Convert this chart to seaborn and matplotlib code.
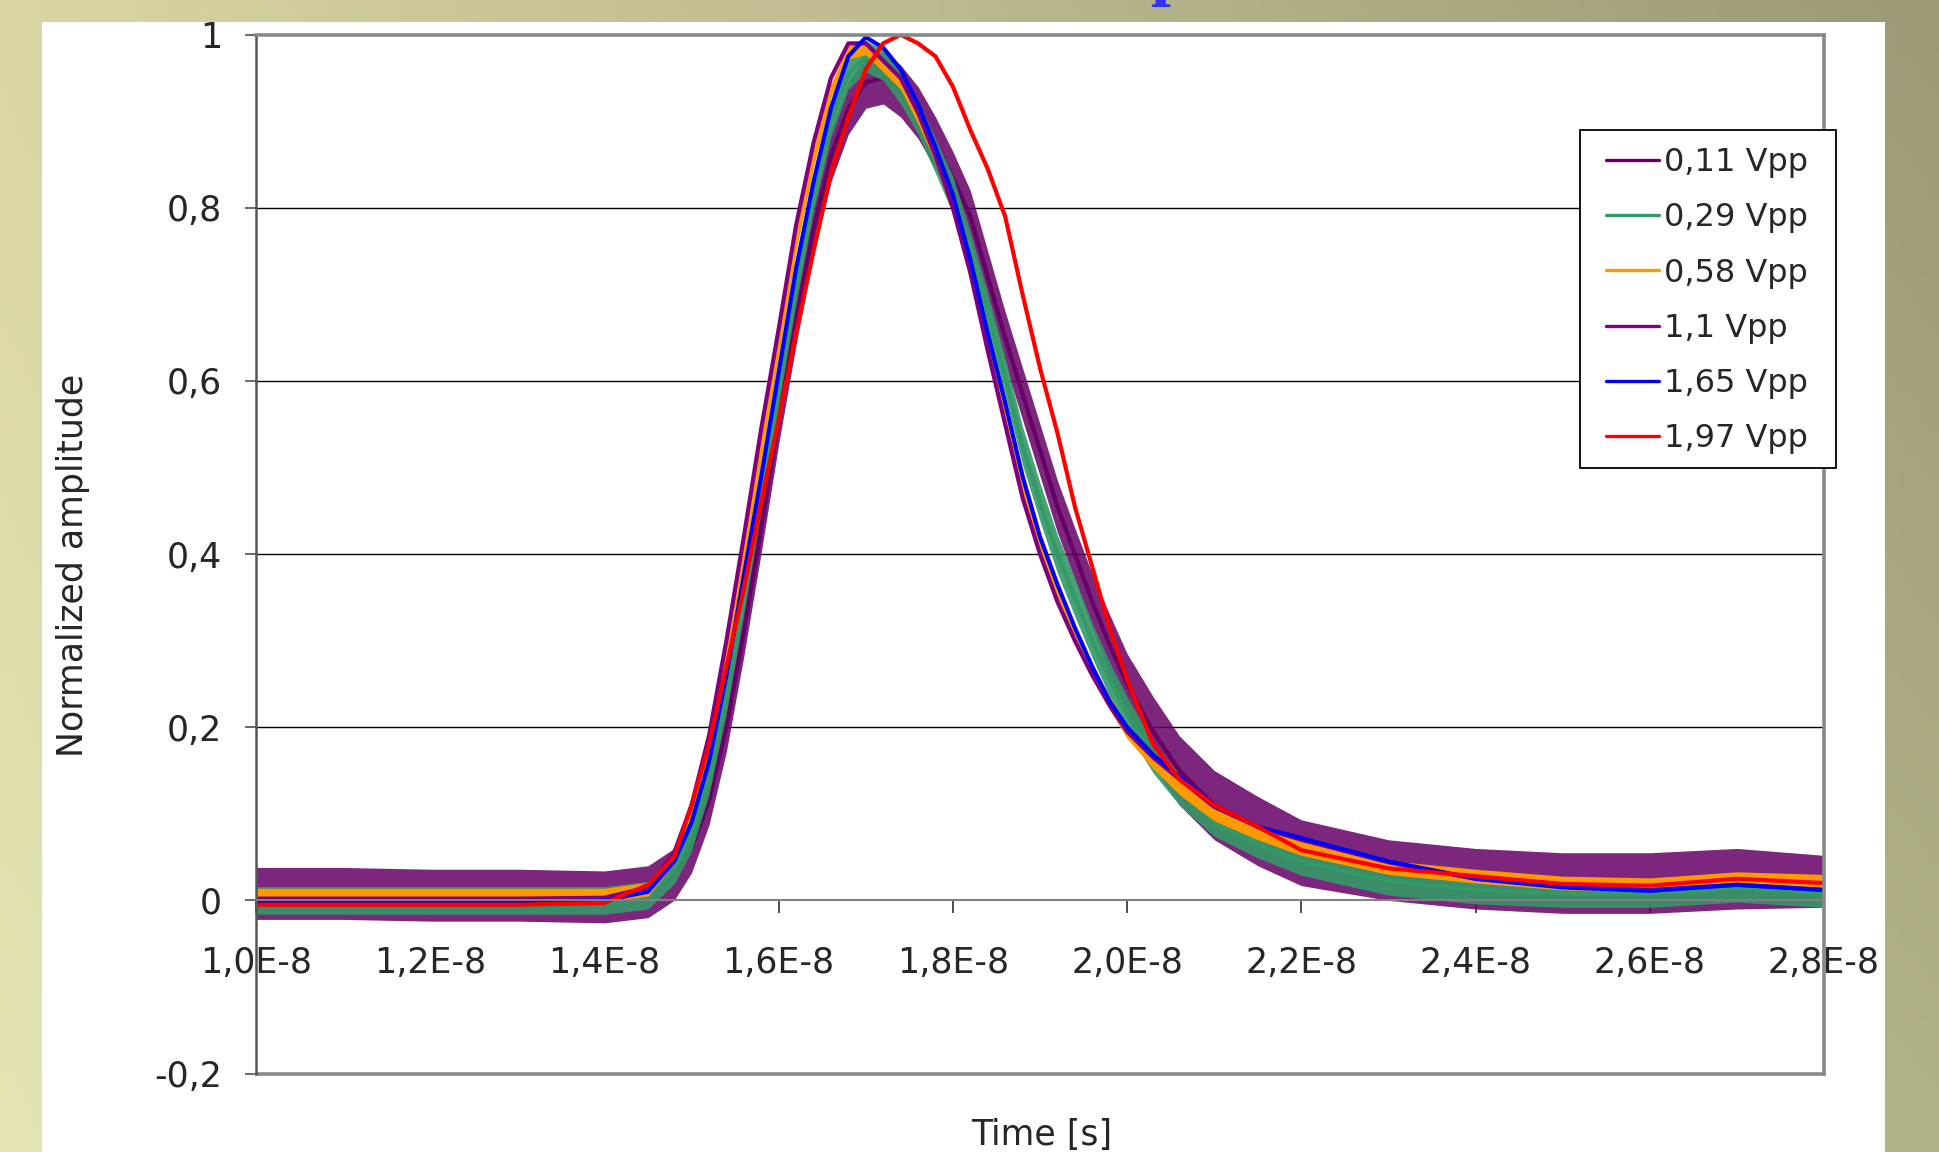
import numpy as np
import pandas as pd
import seaborn as sns
import matplotlib.pyplot as plt
from matplotlib.patches import Rectangle
from matplotlib.lines import Line2D
from matplotlib.ticker import FuncFormatter

# sample times, in ns
t_ns = [10, 11, 12, 13, 14, 14.5, 14.8,
        15.0, 15.2, 15.4, 15.6, 15.8, 16.0, 16.2, 16.4, 16.6, 16.8, 17.0, 17.2, 17.4,
        17.6, 17.8, 18.0, 18.2, 18.4, 18.6, 18.8, 19.0, 19.2, 19.4, 19.6, 19.8, 20.0,
        20.3, 20.6, 21.0, 21.5, 22, 23, 24, 25, 26, 27, 28]

# normalized amplitude of each trace at t_ns
amp_011 = [0.008, 0.008, 0.006, 0.006, 0.004, 0.01, 0.03,
           0.06, 0.115, 0.20, 0.31, 0.43, 0.555, 0.67, 0.775, 0.86, 0.915, 0.945, 0.95, 0.935,
           0.91, 0.875, 0.835, 0.79, 0.72, 0.65, 0.585, 0.52, 0.455, 0.40, 0.345, 0.295, 0.25,
           0.195, 0.15, 0.11, 0.08, 0.055, 0.035, 0.025, 0.02, 0.02, 0.025, 0.022]
amp_029 = [0.0, 0.0, 0.0, 0.0, 0.0, 0.006, 0.035,
           0.075, 0.14, 0.235, 0.35, 0.47, 0.59, 0.71, 0.815, 0.90, 0.955, 0.975, 0.965, 0.94,
           0.905, 0.86, 0.815, 0.75, 0.68, 0.605, 0.525, 0.46, 0.40, 0.35, 0.30, 0.255, 0.215,
           0.165, 0.128, 0.09, 0.065, 0.045, 0.022, 0.012, 0.008, 0.008, 0.014, 0.008]
amp_058 = [0.006, 0.006, 0.006, 0.006, 0.006, 0.013, 0.05,
           0.10, 0.175, 0.285, 0.40, 0.52, 0.64, 0.76, 0.855, 0.935, 0.98, 0.985, 0.965, 0.945,
           0.905, 0.86, 0.80, 0.73, 0.645, 0.56, 0.475, 0.41, 0.355, 0.305, 0.265, 0.228, 0.195,
           0.16, 0.13, 0.10, 0.078, 0.06, 0.038, 0.028, 0.02, 0.018, 0.025, 0.022]
amp_110 = [0.002, 0.002, 0.002, 0.002, 0.003, 0.015, 0.055,
           0.11, 0.19, 0.30, 0.42, 0.545, 0.66, 0.78, 0.875, 0.95, 0.99, 0.99, 0.97, 0.95,
           0.91, 0.86, 0.80, 0.725, 0.635, 0.55, 0.465, 0.40, 0.345, 0.30, 0.26, 0.225, 0.195,
           0.165, 0.14, 0.108, 0.085, 0.07, 0.044, 0.025, 0.016, 0.012, 0.018, 0.012]
amp_165 = [-0.002, -0.002, -0.002, -0.002, 0.0, 0.01, 0.045,
           0.09, 0.16, 0.26, 0.375, 0.49, 0.61, 0.73, 0.83, 0.915, 0.975, 0.997, 0.985, 0.96,
           0.92, 0.87, 0.815, 0.74, 0.655, 0.575, 0.49, 0.42, 0.365, 0.315, 0.27, 0.23, 0.2,
           0.168, 0.143, 0.11, 0.085, 0.072, 0.045, 0.025, 0.015, 0.011, 0.018, 0.012]
amp_197 = [-0.005, -0.005, -0.005, -0.005, -0.003, 0.018, 0.05,
           0.11, 0.18, 0.27, 0.36, 0.46, 0.555, 0.655, 0.75, 0.84, 0.905, 0.96, 0.99, 1.0,
           0.99, 0.975, 0.94, 0.89, 0.845, 0.79, 0.70, 0.615, 0.54, 0.455, 0.385, 0.315, 0.255,
           0.18, 0.14, 0.11, 0.085, 0.058, 0.037, 0.028, 0.019, 0.017, 0.025, 0.02]

# half height of the noise on the three weakest traces
noise_011 = [0.03, 0.03, 0.03, 0.03, 0.03, 0.03, 0.03,
             0.028, 0.028, 0.028, 0.028, 0.028, 0.028, 0.028, 0.028, 0.03, 0.03, 0.03, 0.03, 0.03,
             0.03, 0.03, 0.03, 0.03, 0.03, 0.03, 0.03, 0.03, 0.03, 0.03, 0.032, 0.035, 0.035,
             0.04, 0.04, 0.04, 0.04, 0.038, 0.035, 0.035, 0.035, 0.035, 0.035, 0.03]
noise_029 = [0.016, 0.016, 0.016, 0.016, 0.016, 0.016, 0.016,
             0.018, 0.018, 0.018, 0.018, 0.018, 0.018, 0.018, 0.018, 0.018, 0.018, 0.018, 0.018, 0.02,
             0.02, 0.02, 0.022, 0.022, 0.022, 0.022, 0.022, 0.022, 0.022, 0.022, 0.02, 0.02, 0.02,
             0.018, 0.018, 0.016, 0.016, 0.016, 0.016, 0.016, 0.016, 0.016, 0.016, 0.016]
noise_058 = [0.008, 0.008, 0.008, 0.008, 0.008, 0.008, 0.008,
             0.008, 0.008, 0.008, 0.008, 0.008, 0.008, 0.008, 0.008, 0.008, 0.008, 0.008, 0.008, 0.008,
             0.008, 0.008, 0.008, 0.008, 0.008, 0.008, 0.008, 0.008, 0.008, 0.008, 0.008, 0.008, 0.008,
             0.008, 0.008, 0.008, 0.008, 0.008, 0.008, 0.008, 0.008, 0.008, 0.008, 0.008]

labels = ['0,11 Vpp', '0,29 Vpp', '0,58 Vpp', '1,1 Vpp', '1,65 Vpp', '1,97 Vpp']
colors = ['#660066', '#339966', '#FF9900', '#800080', '#0000FF', '#FF0000']
y_ticks = [-0.2, 0, 0.2, 0.4, 0.6, 0.8, 1.0]
x_ticks_ns = [10, 12, 14, 16, 18, 20, 22, 24, 26, 28]

amps = [amp_011, amp_029, amp_058, amp_110, amp_165, amp_197]
noises = {0: (noise_011, 0.85), 1: (noise_029, 0.9), 2: (noise_058, 1.0)}

t_s = np.array(t_ns) * 1e-9
df = pd.concat([pd.DataFrame({'t': t_s, 'amp': a, 'series': lab})
                for a, lab in zip(amps, labels)], ignore_index=True)

sns.set_style('white')
plt.rcParams['font.family'] = ['DejaVu Sans']

W, H = 1939, 1152
fig = plt.figure(figsize=(W / 100, H / 100), dpi=100)

def fx(px):
    return px / W

def fy(py):
    return 1 - py / H

# olive gradient background + white slide panel
u = np.linspace(0, 1, 200)
tl, tr = np.array([216, 214, 164]), np.array([156, 154, 118])
bl, br = np.array([228, 228, 180]), np.array([178, 178, 138])
vv, uu = np.meshgrid(u, u, indexing='ij')
grad = ((1 - vv)[..., None] * ((1 - uu)[..., None] * tl + uu[..., None] * tr)
        + vv[..., None] * ((1 - uu)[..., None] * bl + uu[..., None] * br)) / 255
bg = fig.add_axes([0, 0, 1, 1], zorder=-10)
bg.imshow(grad, extent=[0, 1, 0, 1], aspect='auto')
bg.axis('off')
fig.add_artist(Rectangle((fx(42), 0), fx(1885) - fx(42), fy(22), transform=fig.transFigure,
                         facecolor='white', edgecolor='none', zorder=-5))
# bottom of the cut-off slide title
fig.text(fx(1170), 1.007, 'p', color='#3333FF', fontsize=52, fontweight='bold',
         family='Liberation Serif', ha='center', va='baseline')

ax = fig.add_axes([fx(256), fy(1073.5), fx(1824) - fx(256), fy(34.7) - fy(1073.5)])
ax.set_facecolor('none')

for i, (lab, col) in enumerate(zip(labels, colors)):
    sub = df[df['series'] == lab]
    if i in noises:
        n, a = noises[i]
        n = np.array(n)
        ax.fill_between(sub['t'], sub['amp'] - n, sub['amp'] + n, color=col, alpha=a,
                        lw=0, zorder=2 + i)
    sns.lineplot(data=sub, x='t', y='amp', color=col, linewidth=3.0, ax=ax, legend=False,
                 errorbar=None, zorder=2 + i)

ax.set_xlim(1.0e-8, 2.8e-8)
ax.set_ylim(-0.2, 1.0)
ax.set_xticks(np.array(x_ticks_ns) * 1e-9)
ax.set_yticks(y_ticks)
ax.xaxis.set_major_formatter(FuncFormatter(lambda v, p: f"{v * 1e8:.1f}".replace('.', ',') + 'E-8'))
ax.yaxis.set_major_formatter(FuncFormatter(
    lambda v, p: str(int(round(v))) if abs(v - round(v)) < 1e-9 else f"{v:.1f}".replace('.', ',')))
ax.set_xlabel('')
ax.set_ylabel('')

for y in [0.2, 0.4, 0.6, 0.8]:
    ax.axhline(y, color='black', lw=1.0, zorder=1)

ax.spines['bottom'].set_position(('data', 0))
ax.spines['bottom'].set_color('#808080')
ax.spines['bottom'].set_linewidth(1.5)
ax.spines['left'].set_color('#555555')
ax.spines['left'].set_linewidth(1.8)
for s in ['top', 'right']:
    ax.spines[s].set_color('#888888')
    ax.spines[s].set_linewidth(2.6)
ax.axhline(-0.2, color='#888888', lw=2.6, clip_on=False, zorder=10)
for s in ax.spines.values():
    s.set_zorder(10)

ax.tick_params(axis='y', direction='out', length=8, width=1.1, color='#404040',
               labelsize=25, pad=16.5, left=True)
ax.tick_params(axis='x', direction='out', length=9.5, width=1.1, color='#202020',
               labelsize=25, pad=23, bottom=True)

fig.text(fx(73), fy(565), 'Normalized amplitude', rotation=90, fontsize=25,
         ha='center', va='center')
fig.text(fx(1042), fy(1145), 'Time [s]', fontsize=25, ha='center', va='baseline')

# legend box
box = Rectangle((fx(1580), fy(467.7)), fx(1836) - fx(1580), fy(129.5) - fy(467.7),
                transform=fig.transFigure, facecolor='white', edgecolor='black', lw=1.3,
                zorder=20)
ax.add_artist(box)
box.set_clip_on(False)
handles = [Line2D([], [], color=c, lw=2.4) for c in colors]
leg = ax.legend(handles, labels, loc='upper left', bbox_to_anchor=(fx(1605.7), fy(147)),
                bbox_transform=fig.transFigure, frameon=False, fontsize=23, borderpad=0,
                borderaxespad=0, handlelength=1.66, handletextpad=0.16, labelspacing=0.76)
leg.set_zorder(21)

fig.savefig('out.png', dpi=100)
